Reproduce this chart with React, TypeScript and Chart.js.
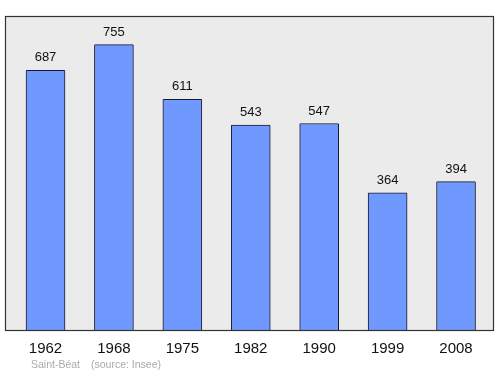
import React, { useEffect, useRef } from "react";
import { Chart, registerables } from "chart.js";

Chart.register(...registerables);

const years = ["1962", "1968", "1975", "1982", "1990", "1999", "2008"];
const population = [687, 755, 611, 543, 547, 364, 394];
const footerPlace = "Saint-Béat";
const footerSource = "(source: Insee)";

const bgPlugin = {
  id: "plotBg",
  beforeDraw(chart: any) {
    const { ctx, chartArea: a } = chart;
    ctx.save();
    ctx.fillStyle = "#ebebeb";
    ctx.fillRect(a.left, a.top, a.right - a.left, a.bottom - a.top);
    ctx.restore();
  },
  afterDatasetsDraw(chart: any) {
    const { ctx, chartArea: a } = chart;
    ctx.save();
    ctx.strokeStyle = "#333333";
    ctx.lineWidth = 1.2;
    ctx.strokeRect(a.left + 0.5, a.top + 0.5, a.right - a.left - 1, a.bottom - a.top - 1);
    const meta = chart.getDatasetMeta(0);
    ctx.fillStyle = "#111111";
    ctx.font = "13px 'Liberation Sans', Arial, sans-serif";
    ctx.textAlign = "center";
    ctx.textBaseline = "alphabetic";
    meta.data.forEach((bar: any, i: number) => {
      ctx.fillText(String(population[i]), bar.x, bar.y - 9);
    });
    ctx.fillStyle = "#aaaaaa";
    ctx.font = "10.5px 'Liberation Sans', Arial, sans-serif";
    ctx.textAlign = "left";
    ctx.fillText(footerPlace, 31, 368);
    ctx.fillText(footerSource, 91, 368);
    ctx.restore();
  },
};

export default function App() {
  const ref = useRef<HTMLCanvasElement | null>(null);
  useEffect(() => {
    document.body.style.margin = "0";
    const chart = new Chart(ref.current as HTMLCanvasElement, {
      type: "bar",
      data: {
        datasets: [
          {
            data: population.map((v, i) => ({ x: i, y: v })),
            backgroundColor: "#7099ff",
            borderColor: "#1a1a2e",
            borderWidth: 1,
            borderRadius: 1,
            borderSkipped: false,
            barThickness: 39,
          },
        ],
      },
      options: {
        animation: false,
        responsive: false,
        maintainAspectRatio: false,
        layout: { padding: { left: 5, right: 6, top: 16, bottom: 7 } },
        plugins: { legend: { display: false }, tooltip: { enabled: false } },
        scales: {
          x: {
            type: "linear",
            offset: false,
            min: -0.592,
            max: 6.555,
            grid: { display: false, drawTicks: false, offset: false },
            border: { display: false },
            ticks: {
              stepSize: 1,
              autoSkip: false,
              padding: 9,
              color: "#111111",
              font: { family: "'Liberation Sans', Arial, sans-serif", size: 15 },
              callback: (v: any) => (Number.isInteger(v) && years[v] ? years[v] : ""),
            },
            afterBuildTicks: (axis: any) => {
              axis.ticks = years.map((_, i) => ({ value: i }));
            },
          },
          y: {
            display: false,
            min: 0,
            max: 830.5,
          },
        },
      },
      plugins: [bgPlugin],
    });
    return () => chart.destroy();
  }, []);
  return (
    <div style={{ position: "fixed", left: 0, top: 0, width: 500, height: 374 }}>
      <canvas ref={ref} width={500} height={374} style={{ width: 500, height: 374 }} />
    </div>
  );
}
